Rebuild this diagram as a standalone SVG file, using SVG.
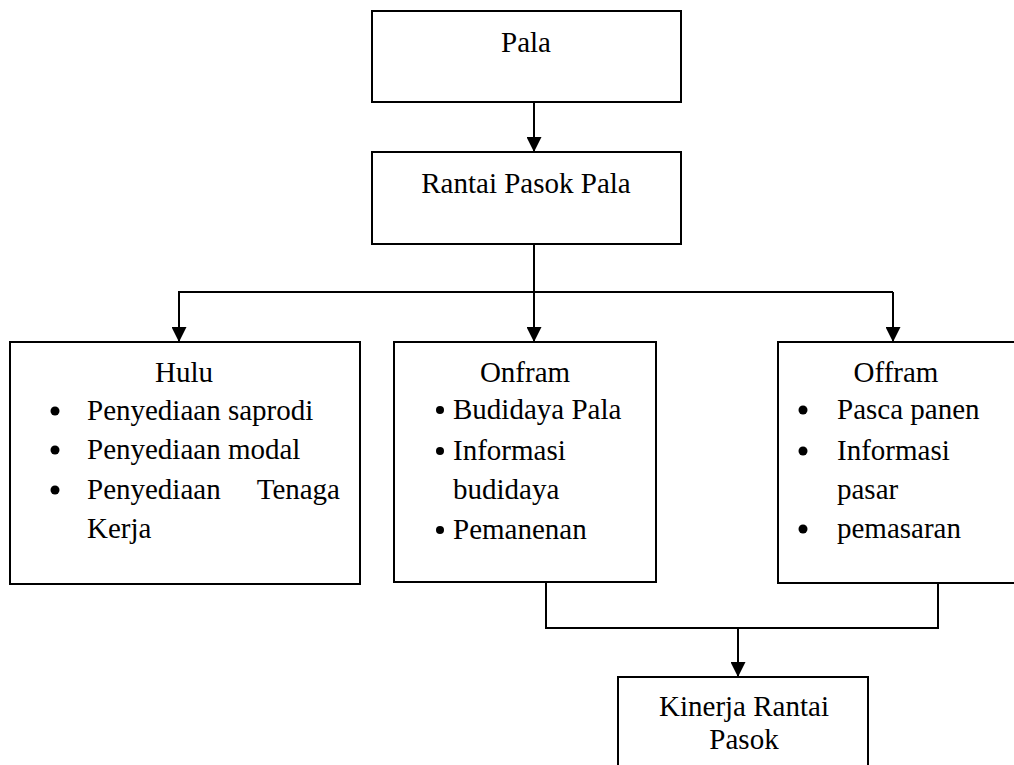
<svg xmlns="http://www.w3.org/2000/svg" width="1014" height="765" viewBox="0 0 1014 765">
<style>
.box{fill:#fff;stroke:#000;stroke-width:2}
.ln{fill:none;stroke:#000;stroke-width:2}
text{font-family:"Liberation Serif","Times New Roman",serif;font-size:29px;fill:#000}
.c{text-anchor:middle}
</style>
<defs>
<marker id="ah" viewBox="0 0 10 10" refX="10" refY="5" markerWidth="15" markerHeight="15" markerUnits="userSpaceOnUse" orient="auto">
<path d="M0,0 L10,5 L0,10 Z" fill="#000"/>
</marker>
</defs>
<rect width="1014" height="765" fill="#fff"/>
<g id="connectors">
<line class="ln" x1="534" y1="102" x2="534" y2="152" marker-end="url(#ah)"/>
<line class="ln" x1="534" y1="244" x2="534" y2="292"/>
<line class="ln" x1="178" y1="292" x2="893" y2="292"/>
<line class="ln" x1="179" y1="292" x2="179" y2="342" marker-end="url(#ah)"/>
<line class="ln" x1="534" y1="292" x2="534" y2="342" marker-end="url(#ah)"/>
<line class="ln" x1="893" y1="292" x2="893" y2="342" marker-end="url(#ah)"/>
<polyline class="ln" points="546,582 546,628 938,628 938,583"/>
<line class="ln" x1="738" y1="628" x2="738" y2="677" marker-end="url(#ah)"/>
</g>
<g id="pala">
<rect class="box" x="372" y="11" width="309" height="91"/>
<text class="c" x="526" y="52">Pala</text>
</g>
<g id="rantai">
<rect class="box" x="372" y="152" width="309" height="92"/>
<text class="c" x="526" y="193">Rantai Pasok Pala</text>
</g>
<g id="hulu">
<rect class="box" x="10" y="342" width="350" height="242"/>
<text class="c" x="184" y="382">Hulu</text>
<circle cx="55" cy="411" r="4.5"/>
<circle cx="55" cy="450" r="4.5"/>
<circle cx="55" cy="490" r="4.5"/>
<text x="87" y="420">Penyediaan saprodi</text>
<text x="87" y="459">Penyediaan modal</text>
<text y="499"><tspan x="87">Penyediaan</tspan> <tspan x="340" text-anchor="end">Tenaga</tspan></text>
<text x="87" y="538">Kerja</text>
</g>
<g id="onfram">
<rect class="box" x="394" y="342" width="262" height="240"/>
<text class="c" x="525" y="382">Onfram</text>
<circle cx="440" cy="410" r="4"/>
<circle cx="440" cy="451" r="4"/>
<circle cx="440" cy="530" r="4"/>
<text x="453" y="419">Budidaya Pala</text>
<text x="453" y="460">Informasi</text>
<text x="453" y="499">budidaya</text>
<text x="453" y="539">Pemanenan</text>
</g>
<g id="offram">
<rect class="box" x="778" y="342" width="250" height="241"/>
<text class="c" x="896" y="382">Offram</text>
<circle cx="803" cy="410" r="4.5"/>
<circle cx="803" cy="451" r="4.5"/>
<circle cx="803" cy="529" r="4.5"/>
<text x="837" y="419">Pasca panen</text>
<text x="837" y="460">Informasi</text>
<text x="837" y="499">pasar</text>
<text x="837" y="538">pemasaran</text>
</g>
<g id="kinerja">
<rect class="box" x="618" y="677" width="250" height="100"/>
<text class="c" x="744" y="716">Kinerja Rantai</text>
<text class="c" x="744" y="749">Pasok</text>
</g>
</svg>
